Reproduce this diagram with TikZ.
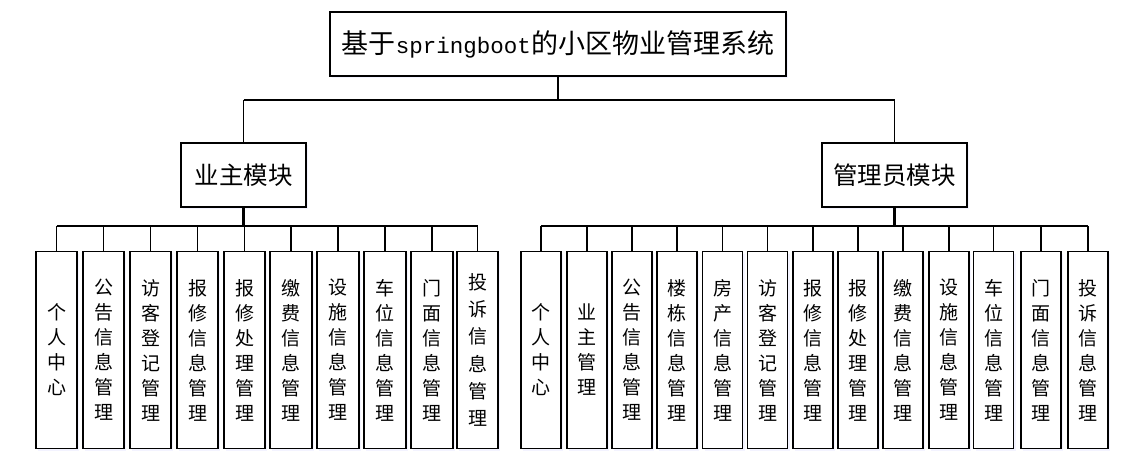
\documentclass[tikz,border=0pt]{standalone}
\usepackage{fontspec}
\newfontfamily\cjk{Noto Sans CJK SC}
\newfontfamily\latmono{Liberation Mono}
\usetikzlibrary{shadows}
\tikzset{
  box/.style={draw=black, line width=1.8pt, fill=white, inner sep=0pt,
    drop shadow={fill=blue!8, opacity=0.6, shadow xshift=2pt, shadow yshift=-2pt}},
  topbox/.style={box, minimum width=456pt, minimum height=64pt, font=\cjk\fontsize{27}{30}\selectfont},
  modbox/.style={box, minimum height=64pt, font=\cjk\fontsize{24.5}{28}\selectfont},
  leafbox/.style={box, minimum height=197pt, align=center, font=\cjk\fontsize{19}{25}\selectfont},
  conn/.style={line width=1.4pt, draw=black},
  stem/.style={line width=2.6pt, draw=black}
}
\begin{document}
\begin{tikzpicture}[x=1pt,y=-1pt]
\useasboundingbox (0,0) rectangle (1136,467);
% top
\node[topbox] (top) at (558,44) {基于{\latmono\fontsize{22.5}{26}\selectfont springboot}的小区物业管理系统};
% modules
\node[modbox, minimum width=125pt] (lm) at (243.5,175) {业主模块};
\node[modbox, minimum width=145pt] (rm) at (894.5,175) {管理员模块};
% top bus
\coordinate (tb) at (558,100);
\draw[conn, line width=1.8pt] (top.south) -- (tb);
\draw[conn, line width=1.8pt] (lm.north |- tb) -- (rm.north |- tb);
\draw[conn, line width=1.8pt] (lm.north |- tb) -- (lm.north);
\draw[conn, line width=1.8pt] (rm.north |- tb) -- (rm.north);
% left leaves
\coordinate (lb) at (243.5,226);
\foreach \x/\n/\t in {
  56.5/l1/{个\\人\\中\\心},
  103.5/l2/{公\\告\\信\\息\\管\\理},
  150.5/l3/{访\\客\\登\\记\\管\\理},
  197.5/l4/{报\\修\\信\\息\\管\\理},
  244.5/l5/{报\\修\\处\\理\\管\\理},
  291/l6/{缴\\费\\信\\息\\管\\理},
  338/l7/{设\\施\\信\\息\\管\\理},
  385/l8/{车\\位\\信\\息\\管\\理},
  432/l9/{门\\面\\信\\息\\管\\理},
  477.5/l10/{投\\[2.3pt]诉\\[2.3pt]信\\[2.3pt]息\\[2.3pt]管\\[2.3pt]理}}{
  \node[leafbox, minimum width=41.6pt] (\n) at (\x,350) {\t};
  \draw[conn] (\n.north |- lb) -- (\n.north);
}
\draw[conn] (l1.north |- lb) -- (l10.north |- lb);
\draw[stem] (lm.south) -- (lb);
% right leaves
\coordinate (rb) at (894.5,226);
\foreach \x/\n/\t in {
  541/r1/{个\\人\\中\\心},
  587/r2/{业\\主\\管\\理},
  632/r3/{公\\告\\信\\息\\管\\理},
  677/r4/{楼\\栋\\信\\息\\管\\理},
  722.5/r5/{房\\产\\信\\息\\管\\理},
  767.5/r6/{访\\客\\登\\记\\管\\理},
  813/r7/{报\\修\\信\\息\\管\\理},
  858/r8/{报\\修\\处\\理\\管\\理},
  903/r9/{缴\\费\\信\\息\\管\\理},
  949/r10/{设\\施\\信\\息\\管\\理},
  993.5/r11/{车\\位\\信\\息\\管\\理},
  1041/r12/{门\\面\\信\\息\\管\\理},
  1088/r13/{投\\诉\\信\\息\\管\\理}}{
  \node[leafbox, minimum width=40pt] (\n) at (\x,350) {\t};
  \draw[conn] (\n.north |- rb) -- (\n.north);
}
\draw[conn] (r1.north |- rb) -- (r13.north |- rb);
\draw[stem] (rm.south) -- (rb);
\end{tikzpicture}
\end{document}
